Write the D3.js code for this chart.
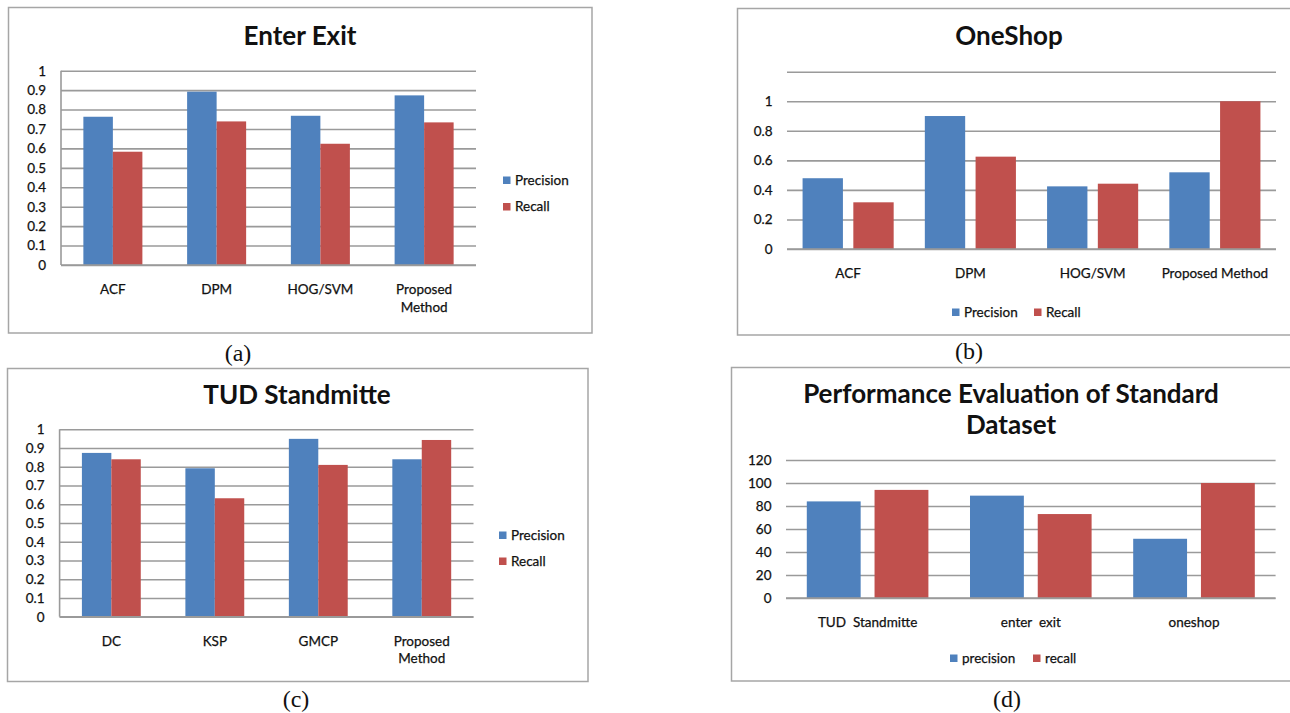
<!DOCTYPE html>
<html>
<head>
<meta charset="utf-8">
<script src="https://cdn.jsdelivr.net/npm/d3@7"></script>
<style>
  html, body { margin: 0; padding: 0; background: #fff; }
  svg text { font-family: Lato, "Open Sans", sans-serif; fill: #111; }
  svg text.small { stroke: #111; stroke-width: 0.25px; }
  svg text.caption { font-family: "Liberation Serif", "Times New Roman", serif; stroke: none; }
  .ws { white-space: pre; }
</style>
</head>
<body>
<svg id="fig" width="1290" height="713"></svg>
<script>
// ---- data ----
const seriesNames = ["Precision", "Recall"];
const seriesNamesLower = ["precision", "recall"];

const enterExitCategories = ["ACF", "DPM", "HOG/SVM", "Proposed Method"];
const enterExitPrecision = [0.763, 0.892, 0.768, 0.873];
const enterExitRecall = [0.583, 0.739, 0.624, 0.734];
const enterExitTicks = [0, 0.1, 0.2, 0.3, 0.4, 0.5, 0.6, 0.7, 0.8, 0.9, 1];

const oneShopCategories = ["ACF", "DPM", "HOG/SVM", "Proposed Method"];
const oneShopPrecision = [0.479, 0.900, 0.424, 0.519];
const oneShopRecall = [0.316, 0.625, 0.442, 1.0];
const oneShopTicks = [0, 0.2, 0.4, 0.6, 0.8, 1, 1.2];
const oneShopTickLabels = ["0", "0.2", "0.4", "0.6", "0.8", "1", ""];

const tudCategories = ["DC", "KSP", "GMCP", "Proposed Method"];
const tudPrecision = [0.874, 0.792, 0.949, 0.840];
const tudRecall = [0.840, 0.632, 0.810, 0.943];
const tudTicks = [0, 0.1, 0.2, 0.3, 0.4, 0.5, 0.6, 0.7, 0.8, 0.9, 1];

const summaryCategories = ["TUD  Standmitte", "enter  exit", "oneshop"];
const summaryPrecision = [84, 89, 51.5];
const summaryRecall = [94, 73, 100];
const summaryTicks = [0, 20, 40, 60, 80, 100, 120];

const colors = ["#4f81bd", "#c0504d"];
const gridColor = "#9a9a9a";
const frameColor = "#a6a6a6";
const smallSize = 13.5;

const svg = d3.select("#fig");
svg.append("rect").attr("width", 1290).attr("height", 713).attr("fill", "#fff");

function drawPanel(p) {
  const g = svg.append("g");

  // outer frame
  g.append("rect")
    .attr("x", p.frame[0]).attr("y", p.frame[1])
    .attr("width", p.frame[2] - p.frame[0]).attr("height", p.frame[3] - p.frame[1])
    .attr("fill", "#fff").attr("stroke", frameColor).attr("stroke-width", 1.5);

  // title
  p.title.forEach((t, i) => {
    g.append("text").attr("x", p.titleX).attr("y", p.titleY[i])
      .attr("text-anchor", "middle").attr("font-weight", "bold")
      .attr("font-size", p.titleSize).text(t);
  });

  const y = d3.scaleLinear().domain(p.domain).range([p.plot.bottom, p.plot.top]);
  const x0 = d3.scaleBand().domain(p.categories).range([p.plot.left, p.plot.right]);
  const x1 = d3.scaleBand().domain(p.series).range([0, x0.bandwidth()])
    .paddingInner(p.innerPad).paddingOuter(p.outerPad);

  // gridlines + tick labels
  const yAxis = d3.axisLeft(y).tickValues(p.ticks)
    .tickSize(-(p.plot.right - p.plot.left)).tickPadding(p.tickPad)
    .tickFormat((d, i) => p.tickLabels ? p.tickLabels[i] : d3.format("~g")(d));
  const ax = g.append("g").attr("transform", `translate(${p.plot.left},0)`).call(yAxis);
  ax.select(".domain").remove();
  ax.selectAll(".tick line").attr("stroke", gridColor).attr("stroke-width", 1.6);
  ax.selectAll(".tick text").attr("class", "small").attr("font-size", smallSize)
    .attr("fill", "#111").attr("font-family", "Lato, sans-serif");

  if (p.axisLine) {
    g.append("line").attr("x1", p.plot.left).attr("x2", p.plot.left)
      .attr("y1", y(p.domain[1])).attr("y2", y(0))
      .attr("stroke", gridColor).attr("stroke-width", 1.6);
  }

  // bars
  const rows = p.categories.map((c, i) => ({ c, vals: p.values.map(v => v[i]) }));
  const grp = g.selectAll(".grp").data(rows).join("g")
    .attr("transform", d => `translate(${x0(d.c)},0)`);
  grp.selectAll("rect").data(d => d.vals.map((v, k) => ({ k, v }))).join("rect")
    .attr("x", d => x1(p.series[d.k]))
    .attr("width", x1.bandwidth())
    .attr("y", d => y(d.v))
    .attr("height", d => y(0) - y(d.v))
    .attr("fill", d => colors[d.k]);

  // baseline drawn over the bars
  g.append("line").attr("x1", p.plot.left).attr("x2", p.plot.right)
    .attr("y1", y(0)).attr("y2", y(0)).attr("stroke", gridColor).attr("stroke-width", 1.6);

  // category labels
  p.categories.forEach((c) => {
    const lines = p.wrap ? c.split(/ (?=Method)/) : [c];
    lines.forEach((ln, j) => {
      g.append("text").attr("class", "ws small")
        .attr("x", x0(c) + x0.bandwidth() / 2)
        .attr("y", p.catY + j * p.catLine)
        .attr("text-anchor", "middle").attr("font-size", smallSize).text(ln);
    });
  });

  // legend
  p.legend.items.forEach((name, k) => {
    const pos = p.legend.pos[k];
    g.append("rect").attr("x", pos[0]).attr("y", pos[1] - 8).attr("width", 7.5).attr("height", 7.5)
      .attr("fill", colors[k]);
    g.append("text").attr("class", "small").attr("x", pos[0] + 12).attr("y", pos[1])
      .attr("font-size", smallSize).text(name);
  });

  // caption
  g.append("text").attr("class", "caption").attr("x", p.caption[1]).attr("y", p.caption[2])
    .attr("text-anchor", "middle").attr("font-size", 24).text(p.caption[0]);
}

// (a) Enter Exit
drawPanel({
  frame: [8.5, 7.5, 592, 333],
  title: ["Enter Exit"], titleX: 300, titleY: [44.5], titleSize: 26,
  plot: { left: 61, right: 476, top: 70.7, bottom: 265 },
  domain: [0, 1], ticks: enterExitTicks, tickPad: 15, axisLine: true,
  categories: enterExitCategories, series: seriesNames,
  values: [enterExitPrecision, enterExitRecall],
  innerPad: 0, outerPad: 0.758,
  wrap: true, catY: 294, catLine: 17.5,
  legend: { items: seriesNames, pos: [[503, 184.5], [503, 211]] },
  caption: ["(a)", 238, 361]
});

// (b) OneShop
drawPanel({
  frame: [737.5, 8.5, 1295, 335],
  title: ["OneShop"], titleX: 1009, titleY: [44.5], titleSize: 26,
  plot: { left: 787, right: 1276, top: 71.7, bottom: 249 },
  domain: [0, 1.2], ticks: oneShopTicks, tickLabels: oneShopTickLabels, tickPad: 14.5, axisLine: false,
  categories: oneShopCategories, series: seriesNames,
  values: [oneShopPrecision, oneShopRecall],
  innerPad: 0.205, outerPad: 0.307,
  wrap: false, catY: 278, catLine: 0,
  legend: { items: seriesNames, pos: [[952, 316.5], [1034, 316.5]] },
  caption: ["(b)", 969, 359]
});

// (c) TUD Standmitte
drawPanel({
  frame: [7.5, 368.5, 588, 681.5],
  title: ["TUD Standmitte"], titleX: 297, titleY: [403.5], titleSize: 26,
  plot: { left: 59.6, right: 473.5, top: 429.3, bottom: 616.7 },
  domain: [0, 1], ticks: tudTicks, tickPad: 15, axisLine: true,
  categories: tudCategories, series: seriesNames,
  values: [tudPrecision, tudRecall],
  innerPad: 0, outerPad: 0.758,
  wrap: true, catY: 645.5, catLine: 17,
  legend: { items: seriesNames, pos: [[499, 539.5], [499, 565.5]] },
  caption: ["(c)", 296, 707]
});

// (d) Performance Evaluation of Standard Dataset
drawPanel({
  frame: [731.5, 367.5, 1295, 681],
  title: ["Performance Evaluation of Standard", "Dataset"], titleX: 1011, titleY: [403, 434], titleSize: 26,
  plot: { left: 786, right: 1275.6, top: 460, bottom: 598 },
  domain: [0, 120], ticks: summaryTicks, tickPad: 14.5, axisLine: false,
  categories: summaryCategories, series: seriesNamesLower,
  values: [summaryPrecision, summaryRecall],
  innerPad: 0.205, outerPad: 0.307,
  wrap: false, catY: 626.5, catLine: 0,
  legend: { items: seriesNamesLower, pos: [[950, 662.5], [1033, 662.5]] },
  caption: ["(d)", 1007, 707]
});
</script>
</body>
</html>
